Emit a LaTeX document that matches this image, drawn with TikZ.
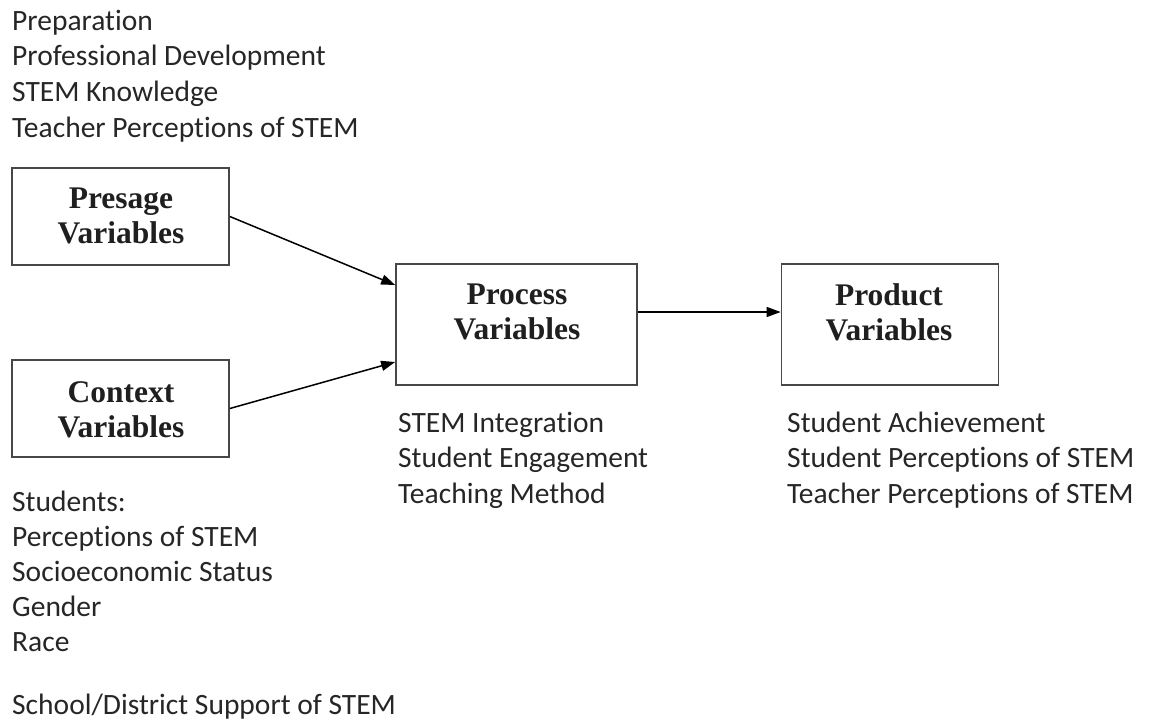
\documentclass[tikz,border=0pt]{standalone}
\usepackage{fontspec}
\setmainfont{Liberation Serif}
\newfontfamily\listfont[Ligatures=NoCommon]{Carlito}
\usetikzlibrary{arrows.meta}
\tikzset{
  box/.style={draw=black!72, line width=1.7pt, minimum width=217pt, minimum height=97pt, inner sep=0pt},
  bigbox/.style={box, minimum width=241pt, minimum height=121pt},
  boxtxt/.style={font=\fontsize{31.5}{35}\selectfont\bfseries, align=center, inner sep=0pt, text=black!88},
  listtxt/.style={font=\listfont\fontsize{29.5}{35}\selectfont, anchor=base west, inner sep=0pt, text=black!85},
  arr/.style={line width=1.5pt, -{Triangle[length=14pt,width=10pt]}}
}
\begin{document}
\begin{tikzpicture}[x=1pt,y=-1pt]
\useasboundingbox (0,0) rectangle (1150,723);
% boxes
\node[box] (presage) at (120.5,216.5) {};
\node[box] (context) at (120.5,408.5) {};
\node[bigbox] (proc) at (516.5,324.5) {};
\node[box, minimum height=121pt] (prod) at (890,324.5) {};
% box texts
\node[boxtxt] (presagetxt) at (121,215.5) {Presage\\Variables};
\node[boxtxt] (contexttxt) at (121,409.5) {Context\\Variables};
\node[boxtxt] (proctxt) at (517,311.5) {Process\\Variables};
\node[boxtxt] (prodtxt) at (889,312.5) {Product\\Variables};
% arrows
\draw[arr] (presage.east) -- ([yshift=39.5pt]proc.west);
\draw[arr] (context.east) -- ([yshift=-37.5pt]proc.west);
\draw[arr] ([yshift=12.5pt]proc.east) -- ([yshift=12.5pt]prod.west);
% lists
\foreach \t [count=\i] in {Preparation, Professional Development, STEM Knowledge, Teacher Perceptions of STEM}
  \node[listtxt] (pre\i) at (12,{30+35.7*(\i-1)}) {\t};
\foreach \t [count=\i] in {STEM Integration, Student Engagement, Teaching Method}
  \node[listtxt] (pro\i) at (398,{432+35.5*(\i-1)}) {\t};
\foreach \t [count=\i] in {Student Achievement, Student Perceptions of STEM, Teacher Perceptions of STEM}
  \node[listtxt] (prd\i) at (787,{432+35.5*(\i-1)}) {\t};
\foreach \t [count=\i] in {Students:, Perceptions of STEM, Socioeconomic Status, Gender, Race}
  \node[listtxt] (ctx\i) at (12,{511+35*(\i-1)}) {\t};
\node[listtxt] (ctx6) at (12,714) {School/District Support of STEM};
\end{tikzpicture}
\end{document}
